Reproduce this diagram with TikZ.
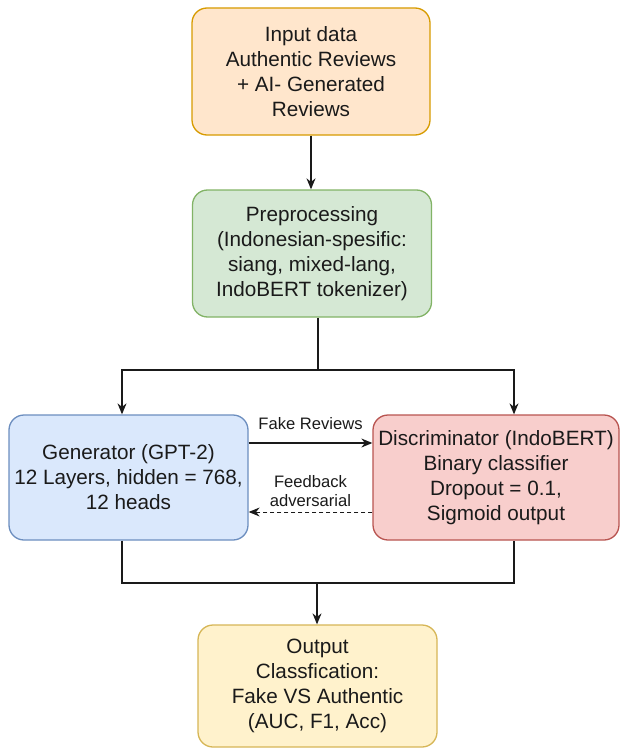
\documentclass[tikz,border=0pt]{standalone}
\usepackage{fontspec}
\setmainfont{Liberation Sans}
\usetikzlibrary{arrows.meta,calc}
\definecolor{txt}{HTML}{1A1A1A}
\definecolor{orfill}{HTML}{FFE6CC}\definecolor{ordraw}{HTML}{D79B00}
\definecolor{grfill}{HTML}{D5E8D4}\definecolor{grdraw}{HTML}{82B366}
\definecolor{blfill}{HTML}{DAE8FC}\definecolor{bldraw}{HTML}{6C8EBF}
\definecolor{rdfill}{HTML}{F8CECC}\definecolor{rddraw}{HTML}{B85450}
\definecolor{yefill}{HTML}{FFF2CC}\definecolor{yedraw}{HTML}{D6B656}
\tikzset{
  box/.style={draw, line width=1.3pt, rounded corners=15pt, inner sep=0pt,
    align=center, text=txt, font=\fontsize{20.7}{25}\selectfont},
  lbl/.style={text=txt, inner sep=0pt, align=center, font=\fontsize{16.6}{19}\selectfont},
  arr/.style={line width=1.3pt, draw=txt, -{Stealth[length=11pt,width=9pt]}},
  ln/.style={line width=1.3pt, draw=txt},
}
\begin{document}
\begin{tikzpicture}[x=1pt,y=-1pt]
\useasboundingbox (0,0) rectangle (622,749);
\node[box, fill=orfill, draw=ordraw, minimum width=238pt, minimum height=127pt] (inp) at (311,71.5)
  {Input data\\Authentic Reviews\\+ AI- Generated\\Reviews};
\node[box, fill=grfill, draw=grdraw, minimum width=239pt, minimum height=127pt] (pre) at (312,253.5)
  {Preprocessing\\(Indonesian-spesific:\\siang, mixed-lang,\\IndoBERT tokenizer)};
\node[box, fill=blfill, draw=bldraw, minimum width=239pt, minimum height=125pt] (gen) at (128.5,477.5)
  {Generator (GPT-2)\\12 Layers, hidden = 768,\\12 heads};
\node[box, fill=rdfill, draw=rddraw, minimum width=246pt, minimum height=125pt] (dis) at (496,477.5)
  {Discriminator (IndoBERT)\\Binary classifier\\Dropout = 0.1,\\Sigmoid output};
\node[box, fill=yefill, draw=yedraw, minimum width=239pt, minimum height=122pt] (out) at (317.5,686)
  {Output\\Classfication:\\Fake VS Authentic\\(AUC, F1, Acc)};
\coordinate (sL) at (122,370);
\coordinate (sR) at (514,370);
\coordinate (bL) at (122,583);
\coordinate (bR) at (514,583);
\coordinate (sM) at (318,370);
\coordinate (bM) at (317,583);
\draw[arr] (inp) -- (inp.south |- pre.north);
\draw[ln] (sM |- pre.south) -- (sM);
\draw[arr] (sM) -- (sL) -- (sL |- gen.north);
\draw[arr] (sM) -- (sR) -- (sR |- dis.north);
\draw[ln] (bL |- gen.south) -- (bL) -- (bR) -- (bR |- dis.south);
\draw[arr] (bM) -- (bM |- out.north);
\draw[arr] ([yshift=34.5pt]gen.east) -- ([yshift=34.5pt]gen.east -| dis.west)
  node[lbl, midway, above=13pt] (fk) {Fake Reviews};
\draw[arr, dashed, dash pattern=on 4pt off 3pt, line width=1pt] ([yshift=-34.5pt]dis.west) -- ([yshift=-34.5pt]dis.west -| gen.east)
  node[lbl, midway, above=5pt] (fb) {Feedback\\adversarial};
\end{tikzpicture}
\end{document}
